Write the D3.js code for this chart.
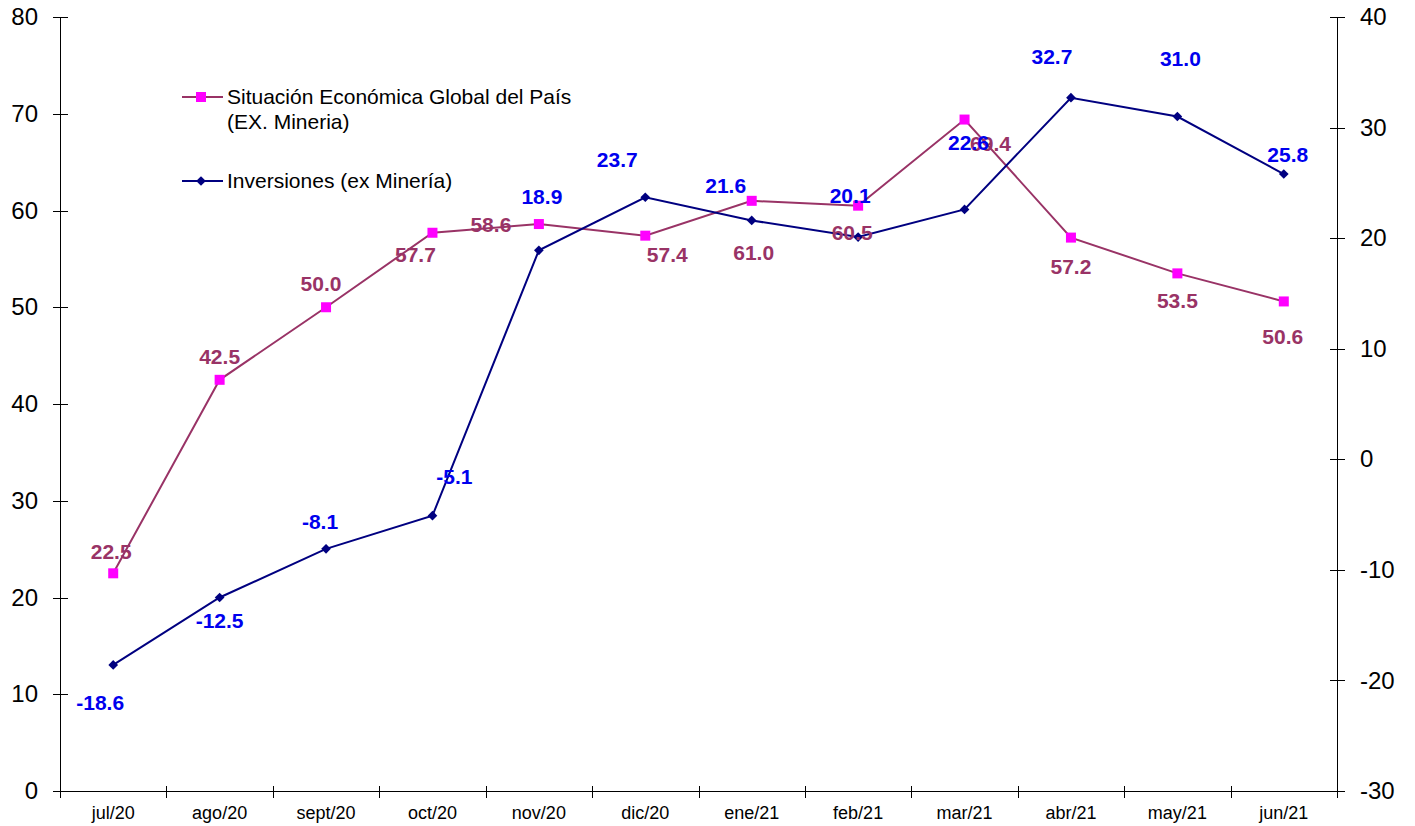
<!DOCTYPE html>
<html>
<head>
<meta charset="utf-8">
<script src="https://cdn.jsdelivr.net/npm/d3@7"></script>
<style>
  body { margin: 0; background: #ffffff; font-family: Arial, "Liberation Sans", sans-serif; }
  .axis path, .axis line { stroke: #000; shape-rendering: crispEdges; }
</style>
</head>
<body>
<script>
// months on the x axis
var months = ['jul/20', 'ago/20', 'sept/20', 'oct/20', 'nov/20', 'dic/20',
              'ene/21', 'feb/21', 'mar/21', 'abr/21', 'may/21', 'jun/21']
// left axis series
var situacion = [22.5, 42.5, 50.0, 57.7, 58.6, 57.4, 61.0, 60.5, 69.4, 57.2, 53.5, 50.6]
// right axis series
var inversiones = [-18.6, -12.5, -8.1, -5.1, 18.9, 23.7, 21.6, 20.1, 22.6, 32.7, 31.0, 25.8]
var leftTicks = [0, 10, 20, 30, 40, 50, 60, 70, 80]
var rightTicks = [-30, -20, -10, 0, 10, 20, 30, 40]

// label placement relative to each point (dx, dy of the label centre)
var situacionLabelOffset = [[-2, -22], [0, -23], [-5, -24], [-17, 22], [-48, 0], [22, 19],
                            [2, 52], [-6, 27], [26, 24], [0, 29], [0, 27], [-1, 35]]
var inversionesLabelOffset = [[-13, 37], [0, 23], [-6, -27], [22, -39], [3, -54], [-28, -38],
                              [-26, -35], [-8, -42], [4, -67], [-19, -41], [3, -58], [4, -20]]

var pink = '#993366'
var magenta = '#ff00ff'
var navy = '#000080'
var blue = '#0000ee'

// plot box (window.top is read-only, so no bare "top" here)
var W = 1415
var H = 826
var plotL = 60
var plotR = 1337
var plotT = 17
var plotB = 791

// plain hyphen for negatives, like the original
var plain = function (d) { return String(d) }

var svg = d3.select('body').append('svg')
  .attr('width', W)
  .attr('height', H)

var x = d3.scaleBand().domain(months).range([plotL, plotR])
var cx = function (d, i) { return x(months[i]) + x.bandwidth() / 2 }

var yL = d3.scaleLinear().domain([0, 80]).range([plotB, plotT])
var yR = d3.scaleLinear().domain([-30, 40]).range([plotB, plotT])

// left axis, ticks cross the line
var leftAxis = svg.append('g').attr('class', 'axis')
  .attr('transform', 'translate(' + plotL + ',0)')
  .call(d3.axisLeft(yL).tickValues(leftTicks).tickFormat(plain)
    .tickSize(7).tickPadding(15).tickSizeOuter(0))
leftAxis.selectAll('.tick line').attr('x2', -7).attr('x1', 8)
leftAxis.selectAll('text').style('font-size', '24px').style('fill', '#000')

// right axis
var rightAxis = svg.append('g').attr('class', 'axis')
  .attr('transform', 'translate(' + plotR + ',0)')
  .call(d3.axisRight(yR).tickValues(rightTicks).tickFormat(plain)
    .tickSize(8).tickPadding(15).tickSizeOuter(0))
rightAxis.selectAll('.tick line').attr('x1', -7)
rightAxis.selectAll('text').style('font-size', '24px').style('fill', '#000')

// bottom axis line + tick marks at band edges
svg.append('line')
  .attr('x1', plotL - 7).attr('x2', plotR + 6)
  .attr('y1', plotB + 0.5).attr('y2', plotB + 0.5)
  .attr('stroke', '#000')

var edges = months.map(function (m) { return x(m) }).concat([plotR])
svg.selectAll('.xtick').data(edges).enter().append('line')
  .attr('class', 'xtick')
  .attr('x1', function (d) { return Math.round(d) + 0.5 })
  .attr('x2', function (d) { return Math.round(d) + 0.5 })
  .attr('y1', plotB - 5).attr('y2', plotB + 7)
  .attr('stroke', '#000')

svg.selectAll('.xlabel').data(months).enter().append('text')
  .attr('class', 'xlabel')
  .attr('x', function (d) { return x(d) + x.bandwidth() / 2 })
  .attr('y', 819)
  .attr('text-anchor', 'middle')
  .style('font-size', '18px')
  .text(function (d) { return d })

// lines
var pinkLine = d3.line().x(cx).y(function (d) { return yL(d) })
var navyLine = d3.line().x(cx).y(function (d) { return yR(d) })

svg.append('path').datum(situacion)
  .attr('d', pinkLine).attr('fill', 'none')
  .attr('stroke', pink).attr('stroke-width', 2)

svg.selectAll('.sq').data(situacion).enter().append('rect')
  .attr('class', 'sq')
  .attr('x', function (d, i) { return cx(d, i) - 5 })
  .attr('y', function (d) { return yL(d) - 5 })
  .attr('width', 10).attr('height', 10)
  .attr('fill', magenta)

svg.append('path').datum(inversiones)
  .attr('d', navyLine).attr('fill', 'none')
  .attr('stroke', navy).attr('stroke-width', 2)

var diamond = d3.symbol().type(d3.symbolDiamond2).size(60)
svg.selectAll('.dm').data(inversiones).enter().append('path')
  .attr('class', 'dm')
  .attr('d', diamond)
  .attr('transform', function (d, i) { return 'translate(' + cx(d, i) + ',' + yR(d) + ')' })
  .attr('fill', navy)

// data labels
svg.selectAll('.plab').data(situacion).enter().append('text')
  .attr('class', 'plab')
  .attr('x', function (d, i) { return cx(d, i) + situacionLabelOffset[i][0] })
  .attr('y', function (d, i) { return yL(d) + situacionLabelOffset[i][1] })
  .attr('dy', '0.36em')
  .attr('text-anchor', 'middle')
  .style('font-size', '21px').style('font-weight', 'bold')
  .attr('fill', pink)
  .text(function (d) { return d.toFixed(1) })

svg.selectAll('.blab').data(inversiones).enter().append('text')
  .attr('class', 'blab')
  .attr('x', function (d, i) { return cx(d, i) + inversionesLabelOffset[i][0] })
  .attr('y', function (d, i) { return yR(d) + inversionesLabelOffset[i][1] })
  .attr('dy', '0.36em')
  .attr('text-anchor', 'middle')
  .style('font-size', '21px').style('font-weight', 'bold')
  .attr('fill', blue)
  .text(function (d) { return d.toFixed(1) })

// legend
var legend = svg.append('g')
legend.append('line').attr('x1', 182).attr('x2', 223).attr('y1', 97).attr('y2', 97)
  .attr('stroke', pink).attr('stroke-width', 2)
legend.append('rect').attr('x', 196).attr('y', 92).attr('width', 10).attr('height', 10)
  .attr('fill', magenta)
legend.append('text').attr('x', 227).attr('y', 104).style('font-size', '21px')
  .text('Situación Económica Global del País')
legend.append('text').attr('x', 227).attr('y', 129).style('font-size', '21px')
  .text('(EX. Mineria)')

legend.append('line').attr('x1', 182).attr('x2', 223).attr('y1', 181).attr('y2', 181)
  .attr('stroke', navy).attr('stroke-width', 2)
legend.append('path').attr('d', diamond).attr('transform', 'translate(201,181)')
  .attr('fill', navy)
legend.append('text').attr('x', 227).attr('y', 188).style('font-size', '21px')
  .text('Inversiones (ex Minería)')
</script>
</body>
</html>
